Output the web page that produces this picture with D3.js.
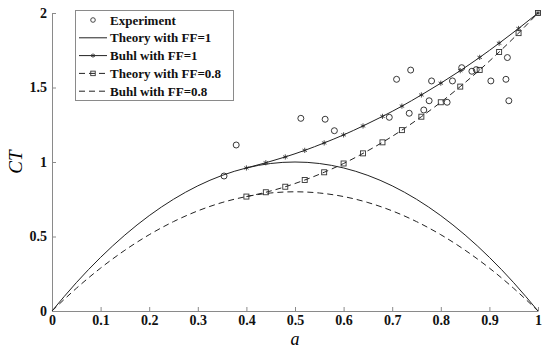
<!DOCTYPE html>
<html>
<head>
<meta charset="utf-8">
<script src="https://cdn.jsdelivr.net/npm/d3@7"></script>
<style>
  body { margin: 0; background: #fff; }
  text { font-family: "Liberation Serif", "DejaVu Serif", serif; }
</style>
</head>
<body>
<script>
var w = 550,
    h = 349;

// theory curves, a from 0 to 1
var aTheory = [0, 0.05, 0.1, 0.15, 0.2, 0.25, 0.3, 0.35, 0.4, 0.45, 0.5,
               0.55, 0.6, 0.65, 0.7, 0.75, 0.8, 0.85, 0.9, 0.95, 1];
var ctTheory1 = [0, 0.19, 0.36, 0.51, 0.64, 0.75, 0.84, 0.91, 0.96, 0.99, 1,
                 0.99, 0.96, 0.91, 0.84, 0.75, 0.64, 0.51, 0.36, 0.19, 0];
var ctTheory08 = [0, 0.152, 0.288, 0.408, 0.512, 0.6, 0.672, 0.728, 0.768, 0.792, 0.8,
                  0.792, 0.768, 0.728, 0.672, 0.6, 0.512, 0.408, 0.288, 0.152, 0];

// buhl curves, a from 0.4 to 1
var aBuhl = [0.4, 0.44, 0.48, 0.52, 0.56, 0.6, 0.64, 0.68, 0.72, 0.76, 0.8,
             0.84, 0.88, 0.92, 0.96, 1];
var ctBuhl1 = [0.96, 0.995, 1.034, 1.078, 1.128, 1.182, 1.242, 1.306, 1.375, 1.45, 1.529,
               1.613, 1.702, 1.797, 1.896, 2];
var ctBuhl08 = [0.768, 0.797, 0.834, 0.879, 0.931, 0.99, 1.058, 1.132, 1.214, 1.304, 1.401,
                1.506, 1.618, 1.738, 1.865, 2];

// experiment
var expA = [0.354, 0.379, 0.512, 0.562, 0.581, 0.694, 0.709, 0.738, 0.735, 0.765, 0.776,
            0.781, 0.813, 0.824, 0.843, 0.864, 0.873, 0.903, 0.934, 0.937, 0.94];
var expCT = [0.906, 1.114, 1.293, 1.287, 1.21, 1.3, 1.555, 1.617, 1.327, 1.349, 1.411,
             1.544, 1.401, 1.544, 1.633, 1.609, 1.62, 1.544, 1.555, 1.701, 1.411];

var xTicks = [0, 0.1, 0.2, 0.3, 0.4, 0.5, 0.6, 0.7, 0.8, 0.9, 1];
var xTickLabels = ["0", "0.1", "0.2", "0.3", "0.4", "0.5", "0.6", "0.7", "0.8", "0.9", "1"];
var yTicks = [0, 0.5, 1, 1.5, 2];
var yTickLabels = ["0", "0.5", "1", "1.5", "2"];

var legendLabels = ["Experiment", "Theory with FF=1", "Buhl with FF=1",
                    "Theory with FF=0.8", "Buhl with FF=0.8"];

var x = d3.scaleLinear().domain([0, 1]).range([52, 538]);
var y = d3.scaleLinear().domain([0, 2]).range([311, 13]);

var svg = d3.select("body").append("svg").attr("width", w).attr("height", h);

function zip(xs, ys) {
  return xs.map(function(d, i) { return [d, ys[i]]; });
}

var line = d3.line()
  .x(function(d) { return x(d[0]); })
  .y(function(d) { return y(d[1]); })
  .curve(d3.curveMonotoneX);

var axisColor = "#8a8a8a";

// axes
var xAxis = svg.append("g")
  .attr("transform", "translate(0," + y(0) + ")")
  .call(d3.axisBottom(x).tickValues(xTicks)
        .tickFormat(function(d, i) { return xTickLabels[i]; })
        .tickSizeInner(-4).tickSizeOuter(0).tickPadding(4));

var yAxis = svg.append("g")
  .attr("transform", "translate(" + x(0) + ",0)")
  .call(d3.axisLeft(y).tickValues(yTicks)
        .tickFormat(function(d, i) { return yTickLabels[i]; })
        .tickSizeInner(-4).tickSizeOuter(0).tickPadding(5));

[xAxis, yAxis].forEach(function(g) {
  g.select(".domain").attr("stroke", axisColor);
  g.selectAll(".tick line").attr("stroke", axisColor);
  g.selectAll(".tick text")
    .attr("fill", "#111")
    .style("font-family", "'Liberation Serif', serif")
    .style("font-size", "14px")
    .style("font-weight", "bold");
});

// curves
var curves = [
  {data: zip(aTheory, ctTheory1), dash: null},
  {data: zip(aTheory, ctTheory08), dash: "6,4"},
  {data: zip(aBuhl, ctBuhl1), dash: null},
  {data: zip(aBuhl, ctBuhl08), dash: "6,4"}
];

svg.selectAll("path.curve")
  .data(curves)
  .enter()
  .append("path")
  .attr("class", "curve")
  .attr("d", function(d) { return line(d.data); })
  .attr("fill", "none")
  .attr("stroke", "#222")
  .attr("stroke-width", 1)
  .attr("stroke-dasharray", function(d) { return d.dash; });

// marker helpers
function star(g, cx, cy, r) {
  var s = "";
  for (var k = 0; k < 3; k++) {
    var ang = Math.PI / 2 + k * Math.PI / 3;
    var dx = r * Math.cos(ang), dy = r * Math.sin(ang);
    s += "M" + (cx - dx) + "," + (cy - dy) + "L" + (cx + dx) + "," + (cy + dy);
  }
  g.append("path").attr("d", s).attr("stroke", "#222").attr("stroke-width", 0.8).attr("fill", "none");
}

function square(g, cx, cy, s) {
  g.append("rect")
    .attr("x", cx - s / 2).attr("y", cy - s / 2)
    .attr("width", s).attr("height", s)
    .attr("fill", "none").attr("stroke", "#333").attr("stroke-width", 0.9);
}

var marks = svg.append("g");

zip(aBuhl, ctBuhl1).forEach(function(d) { star(marks, x(d[0]), y(d[1]), 2.6); });
zip(aBuhl, ctBuhl08).forEach(function(d) { square(marks, x(d[0]), y(d[1]), 5); });

marks.selectAll("circle")
  .data(zip(expA, expCT))
  .enter()
  .append("circle")
  .attr("cx", function(d) { return x(d[0]); })
  .attr("cy", function(d) { return y(d[1]); })
  .attr("r", 3)
  .attr("fill", "none")
  .attr("stroke", "#222")
  .attr("stroke-width", 0.9);

// axis titles
svg.append("text")
  .attr("x", x(0.5)).attr("y", 345)
  .attr("text-anchor", "middle")
  .style("font-size", "18px").style("font-style", "italic")
  .text("a");

svg.append("text")
  .attr("transform", "translate(22," + y(1) + ") rotate(-90)")
  .attr("text-anchor", "middle")
  .style("font-size", "19px").style("font-style", "italic")
  .text("CT");

// legend
var lg = svg.append("g");
lg.append("rect")
  .attr("x", 75.5).attr("y", 10.5)
  .attr("width", 158).attr("height", 90)
  .attr("fill", "#fff").attr("stroke", axisColor);

legendLabels.forEach(function(lab, i) {
  var ly = 20 + i * 17.8;
  if (i === 0) {
    lg.append("circle").attr("cx", 93).attr("cy", ly).attr("r", 2.3)
      .attr("fill", "none").attr("stroke", "#333").attr("stroke-width", 0.9);
  } else {
    lg.append("line")
      .attr("x1", 79).attr("x2", 107).attr("y1", ly).attr("y2", ly)
      .attr("stroke", "#222").attr("stroke-width", 1)
      .attr("stroke-dasharray", i >= 3 ? "6,4" : null);
    if (i === 2) star(lg, 93, ly, 2.2);
    if (i === 3) square(lg, 93, ly, 4.5);
  }
  lg.append("text")
    .attr("x", 110).attr("y", ly + 4.5)
    .style("font-size", "13px").style("font-weight", "bold")
    .attr("fill", "#111")
    .text(lab);
});
</script>
</body>
</html>
